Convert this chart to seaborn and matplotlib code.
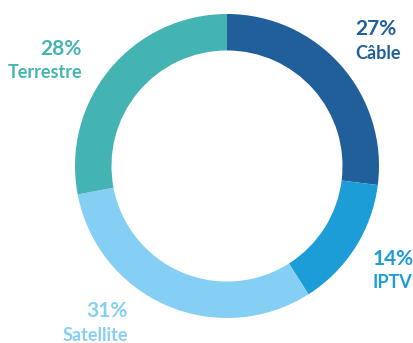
import matplotlib
matplotlib.use("Agg")
import matplotlib.pyplot as plt
import seaborn as sns

sns.set_theme(style="white")
plt.rcParams["font.family"] = ["Lato", "DejaVu Sans"]

categories = ["Câble", "IPTV", "Satellite", "Terrestre"]
shares = [27, 14, 31, 28]
colors = ["#215f9a", "#1d9dd8", "#86cff4", "#44b3b3"]

fig = plt.figure(figsize=(4.14, 3.43), dpi=100)
ax = fig.add_axes([75 / 414, 25 / 343, 304 / 414, 304 / 343])

ax.pie(shares, colors=colors, startangle=90, counterclock=False,
       radius=1.0, wedgeprops=dict(width=0.24, linewidth=0))
ax.set_xlim(-1, 1)
ax.set_ylim(-1, 1)
ax.set_aspect("equal")
ax.axis("off")

# label anchors (x, y, horizontal alignment) in axes data units
anchors = {
    "Câble": (0.842, 0.90, "left"),
    "IPTV": (0.96, -0.61, "left"),
    "Satellite": (-0.651, -0.955, "right"),
    "Terrestre": (-0.954, 0.77, "right"),
}
for cat, val, col in zip(categories, shares, colors):
    x, y, ha = anchors[cat]
    ax.text(x, y, f"{val}%", color=col, fontsize=15, fontweight="bold",
            ha=ha, va="center", clip_on=False)
    ax.text(x, y - 0.158, cat, color=col, fontsize=13, fontweight="bold",
            ha=ha, va="center", clip_on=False)

fig.savefig("out.png", dpi=100, facecolor="white")
